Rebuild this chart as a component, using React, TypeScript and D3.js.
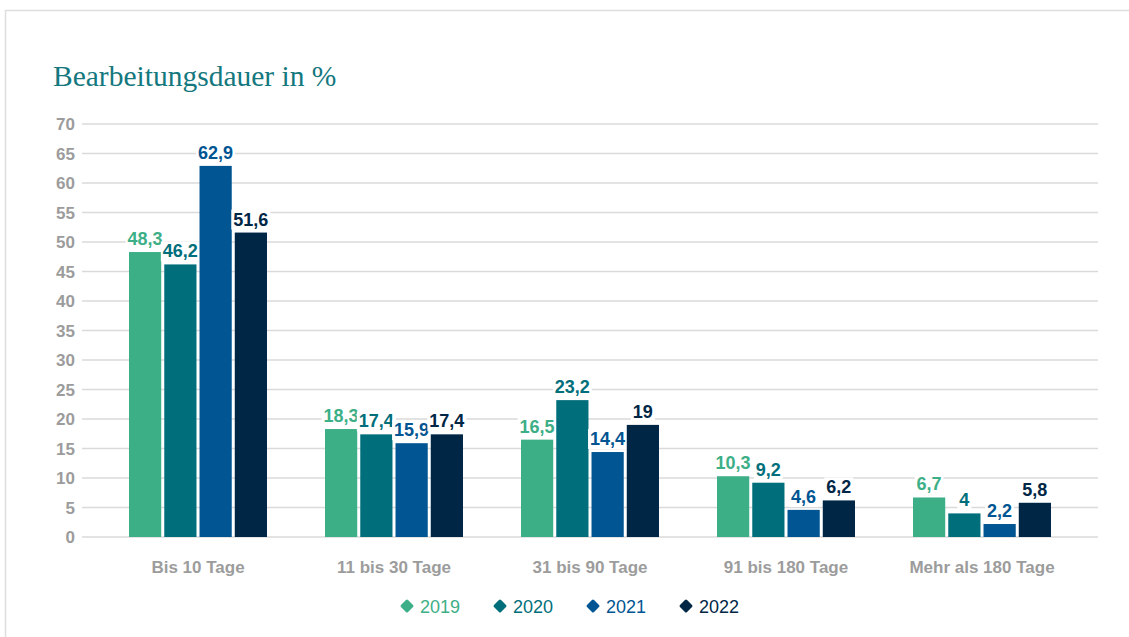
import React, { useEffect, useRef } from 'react';
import * as d3 from 'd3';

// Daten
const categories = ['Bis 10 Tage', '11 bis 30 Tage', '31 bis 90 Tage', '91 bis 180 Tage', 'Mehr als 180 Tage'];
const years = ['2019', '2020', '2021', '2022'];
const values2019 = [48.3, 18.3, 16.5, 10.3, 6.7];
const values2020 = [46.2, 17.4, 23.2, 9.2, 4];
const values2021 = [62.9, 15.9, 14.4, 4.6, 2.2];
const values2022 = [51.6, 17.4, 19, 6.2, 5.8];
const yTicks = [0, 5, 10, 15, 20, 25, 30, 35, 40, 45, 50, 55, 60, 65, 70];

const colors = ['#3daf87', '#006f7b', '#005592', '#002646'];
const gray = '#9c9c9c';
const sans = '"Liberation Sans", Arial, sans-serif';

const App = () => {
  const svgRef = useRef<SVGSVGElement>(null);

  useEffect(() => {
    const width = 1129;
    const height = 637;
    const series = [values2019, values2020, values2021, values2022];

    const svg = d3.select(svgRef.current);
    svg.selectAll('*').remove();
    svg.attr('width', width).attr('height', height);

    // Rahmen der Karte
    svg.append('path')
      .attr('d', `M5.5,${height} V10.5 H${width}`)
      .attr('fill', 'none')
      .attr('stroke', '#dedede')
      .attr('stroke-width', 1.5);

    // Titel
    svg.append('text')
      .attr('x', 53)
      .attr('y', 86)
      .attr('fill', '#14787e')
      .style('font-family', '"Liberation Serif", "DejaVu Serif", serif')
      .style('font-size', '29.5px')
      .text('Bearbeitungsdauer in %');

    const y = d3.scaleLinear().domain([0, 70]).range([537, 124]);
    const x0 = d3.scaleBand<string>()
      .domain(categories)
      .range([100, 1080])
      .paddingInner(0.296)
      .paddingOuter(0.148);
    const x1 = d3.scaleBand<string>()
      .domain(years)
      .range([0, x0.bandwidth()])
      .paddingInner(0.086);

    // Gitterlinien und y-Achse
    const grid = svg.append('g');
    grid.selectAll('line')
      .data(yTicks)
      .enter()
      .append('line')
      .attr('x1', 82)
      .attr('x2', 1098)
      .attr('y1', d => y(d))
      .attr('y2', d => y(d))
      .attr('stroke', '#dadada')
      .attr('stroke-width', 1.5);
    grid.selectAll('text')
      .data(yTicks)
      .enter()
      .append('text')
      .attr('x', 75)
      .attr('y', d => y(d) + 6)
      .attr('text-anchor', 'end')
      .attr('fill', gray)
      .style('font-family', sans)
      .style('font-weight', 'bold')
      .style('font-size', '17px')
      .text(d => d);

    // Balken
    const groups = svg.append('g')
      .selectAll('g')
      .data(categories)
      .enter()
      .append('g')
      .attr('transform', d => `translate(${x0(d)},0)`);

    const cells = groups.selectAll('g')
      .data((_, i) => years.map((yr, k) => ({ year: yr, k, value: series[k][i] })))
      .enter()
      .append('g');

    cells.append('rect')
      .attr('x', d => x1(d.year)!)
      .attr('width', x1.bandwidth())
      .attr('y', d => y(d.value))
      .attr('height', d => y(0) - y(d.value))
      .attr('fill', d => colors[d.k]);

    // Wertbeschriftungen mit weißem Hintergrund
    const labels = cells.append('text')
      .attr('x', d => x1(d.year)! + x1.bandwidth() / 2)
      .attr('y', d => y(d.value) - 7)
      .attr('text-anchor', 'middle')
      .attr('fill', d => colors[d.k])
      .style('font-family', sans)
      .style('font-weight', 'bold')
      .style('font-size', '18px')
      .text(d => String(d.value).replace('.', ','));

    labels.each(function () {
      const box = (this as SVGTextElement).getBBox();
      d3.select((this as SVGTextElement).parentNode as SVGGElement)
        .insert('rect', 'text')
        .attr('x', box.x - 2)
        .attr('y', box.y)
        .attr('width', box.width + 4)
        .attr('height', box.height)
        .attr('fill', '#fff');
    });

    // Kategorienbeschriftung
    svg.append('g')
      .selectAll('text')
      .data(categories)
      .enter()
      .append('text')
      .attr('x', d => x0(d)! + x0.bandwidth() / 2)
      .attr('y', 573)
      .attr('text-anchor', 'middle')
      .attr('fill', gray)
      .style('font-family', sans)
      .style('font-weight', 'bold')
      .style('font-size', '17px')
      .text(d => d);

    // Legende
    const legend = svg.append('g')
      .selectAll('g')
      .data(years)
      .enter()
      .append('g')
      .attr('transform', (_, i) => `translate(${407 + i * 93},606)`);
    legend.append('rect')
      .attr('x', -5)
      .attr('y', -5)
      .attr('width', 10)
      .attr('height', 10)
      .attr('rx', 1.5)
      .attr('transform', 'rotate(45)')
      .attr('fill', (_, i) => colors[i]);
    legend.append('text')
      .attr('x', 13)
      .attr('y', 7)
      .attr('fill', (_, i) => colors[i])
      .style('font-family', sans)
      .style('font-size', '18px')
      .text(d => d);
  }, []);

  return (
    <div style={{ position: 'absolute', left: 0, top: 0 }}>
      <svg ref={svgRef} style={{ display: 'block' }}></svg>
    </div>
  );
};

export default App;
